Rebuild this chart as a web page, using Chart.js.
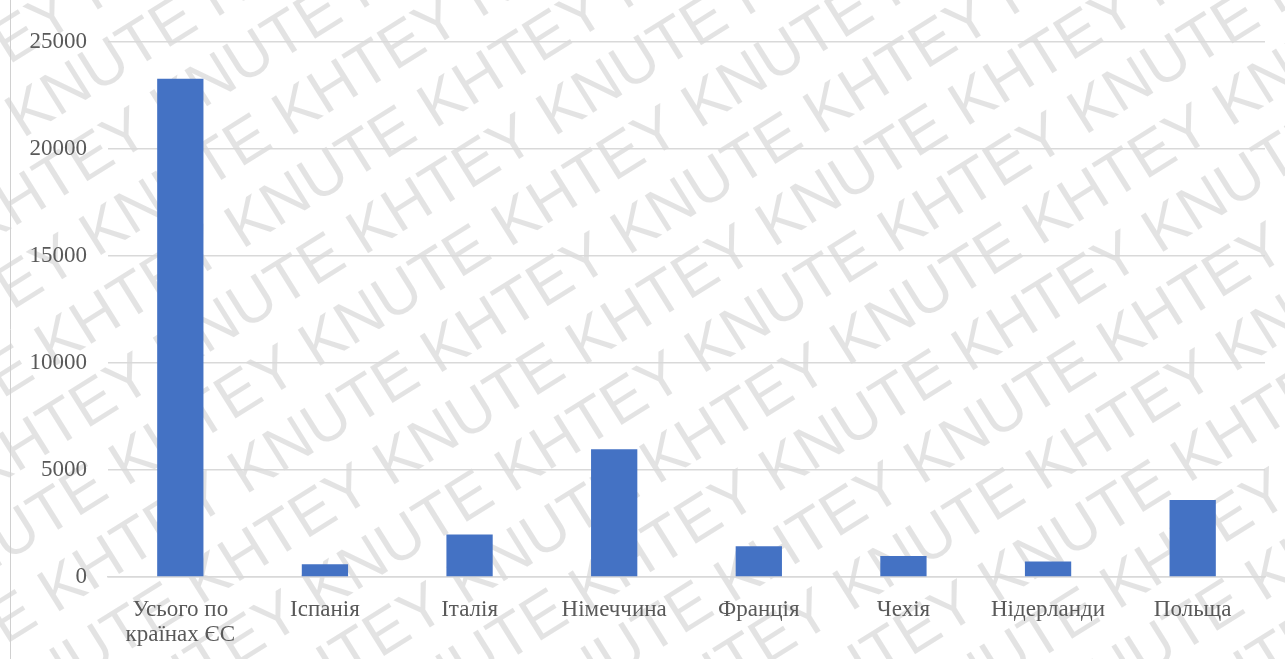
<!DOCTYPE html>
<html>
<head>
<meta charset="utf-8">
<script src="https://cdn.jsdelivr.net/npm/chart.js@4.4.0/dist/chart.umd.min.js"></script>
<style>
    html, body { margin: 0; padding: 0; background: #fff; }
    #wrap { width: 1285px; height: 659px; position: relative; }
</style>
</head>
<body>
<div id="wrap"><canvas id="chartBar"></canvas></div>
<script>
const labels = [['Усього по', 'країнах ЄС'], 'Іспанія', 'Італія', 'Німеччина', 'Франція', 'Чехія', 'Нідерланди', 'Польща'];
const values = [23280, 600, 1990, 5970, 1440, 985, 720, 3600];
const tickStep = 5000;
const tickMax = 25000;

// faint watermark behind the chart + left frame line
const watermark = {
    id: 'watermark',
    beforeDraw: function (chart) {
        var ctx = chart.ctx;
        ctx.save();
        ctx.fillStyle = 'rgba(0,0,0,0.11)';
        ctx.font = '62px "Liberation Sans", sans-serif';
        ctx.translate(chart.width / 2, chart.height / 2);
        ctx.rotate(-32 * Math.PI / 180);
        var words = ['KNUTE ', 'KHTEY '];
        for (var r = -13; r <= 13; r++) {
            var y = r * 70;
            var x = -1200 + (r % 2 ? 100 : 0);
            var i = Math.abs(r) % 2;
            while (x < 1200) {
                var w = words[i % 2];
                ctx.fillText(w, x, y);
                x += ctx.measureText(w).width;
                i++;
            }
        }
        ctx.restore();

        ctx.save();
        ctx.strokeStyle = '#d0d0d0';
        ctx.lineWidth = 1;
        ctx.beginPath();
        ctx.moveTo(10.5, 0);
        ctx.lineTo(10.5, chart.height);
        ctx.stroke();
        ctx.restore();
    }
};

var ctx = document.getElementById('chartBar').getContext('2d');

var myChart = new Chart(ctx, {
    type: 'bar',
    data: {
        labels: labels,
        datasets: [{
            data: values,
            backgroundColor: '#4472c4',
            borderWidth: 0,
            categoryPercentage: 1.0,
            barPercentage: 0.32
        }]
    },
    options: {
        responsive: true,
        maintainAspectRatio: false,
        animation: false,
        layout: { padding: { top: 42, right: 20, bottom: 0, left: 0 } },
        plugins: {
            legend: { display: false },
            tooltip: { enabled: false }
        },
        scales: {
            x: {
                afterFit: function (scale) { scale.height = 82; },
                grid: { display: false },
                border: { color: '#d9d9d9', width: 1.5 },
                ticks: {
                    color: '#595959',
                    padding: 12,
                    maxRotation: 0,
                    autoSkip: false,
                    font: { family: '"Liberation Serif", serif', size: 23, lineHeight: 1.1 }
                }
            },
            y: {
                min: 0,
                max: tickMax,
                afterFit: function (scale) { scale.width = 108; },
                grid: { color: '#d9d9d9', lineWidth: 1.5, drawTicks: false },
                border: { display: false },
                ticks: {
                    stepSize: tickStep,
                    color: '#595959',
                    padding: 21,
                    callback: function (v) { return String(v); },
                    font: { family: '"Liberation Serif", serif', size: 23 }
                }
            }
        }
    },
    plugins: [watermark]
});
</script>
</body>
</html>
